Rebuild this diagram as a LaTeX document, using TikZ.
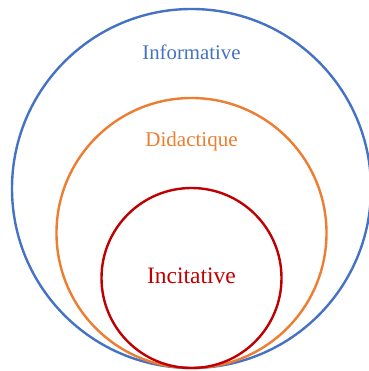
\documentclass[tikz,border=0pt]{standalone}
\usepackage{fontspec}
\setmainfont{Liberation Serif}
\usetikzlibrary{positioning}
\definecolor{infoblue}{RGB}{68,114,196}
\definecolor{didorange}{RGB}{237,125,49}
\definecolor{incred}{RGB}{192,0,0}

\begin{document}
\begin{tikzpicture}[x=1pt, y=-1pt,
  ring/.style={circle, draw, line width=2.4pt, inner sep=0pt},
  label/.style={anchor=base}]
  \useasboundingbox (0,0) rectangle (368,371);
  % Circles, all touching at the bottom
  \node[ring, draw=infoblue, minimum size=359pt] (info) at (191.5,188.5) {};
  \node[ring, draw=didorange, minimum size=270pt] (did) at (191.5,233) {};
  \node[ring, draw=incred, minimum size=180pt] (inc) at (191.5,278) {};
  % Labels
  \node[label, text=infoblue, font=\fontsize{20.8}{24}\selectfont] (infotxt) at (191.5,60) {Informative};
  \node[label, text=didorange, font=\fontsize{21}{24}\selectfont] (didtxt) at (191.5,146.5) {Didactique};
  \node[label, text=incred, font=\fontsize{23.5}{27}\selectfont] (inctxt) at (191.5,283.5) {Incitative};
\end{tikzpicture}
\end{document}
